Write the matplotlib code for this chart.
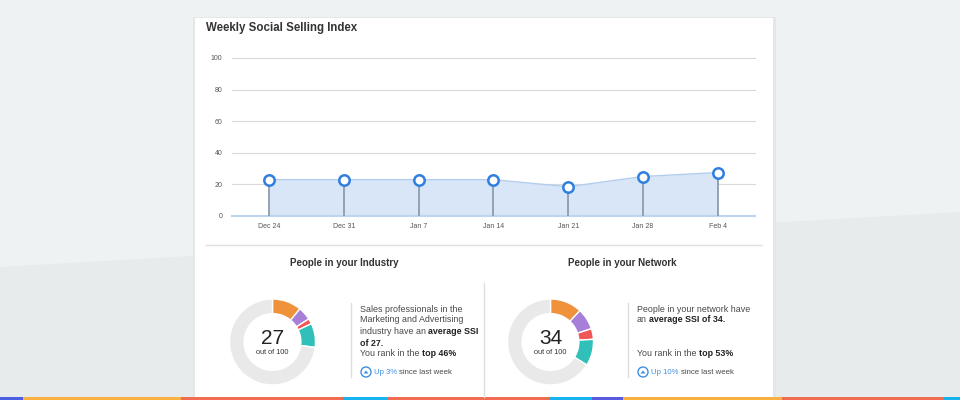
import matplotlib
matplotlib.use("Agg")
import matplotlib.pyplot as plt
from matplotlib.patches import Polygon, Rectangle, Circle

plt.rcParams['font.family'] = ['Liberation Sans', 'DejaVu Sans']

W, H = 960, 400

# weekly index
weeks = ["Dec 24", "Dec 31", "Jan 7", "Jan 14", "Jan 21", "Jan 28", "Feb 4"]
ssi = [23, 23, 23, 23, 18.5, 25, 27.5]
y_ticks = [0, 20, 40, 60, 80, 100]

# donut parts (brand, people, insights, relationships)
industry_parts = [11, 5, 2, 9]
network_parts = [12, 8, 4, 10]
industry_score = 27
network_score = 34
part_colors = ["#f0913b", "#a77fd8", "#f05656", "#31bfb9"]

fig = plt.figure(figsize=(W / 100, H / 100), dpi=100)
fig.patch.set_facecolor("#eff2f2")

# background axes in pixel coordinates
bg = fig.add_axes([0, 0, 1, 1])
bg.set_xlim(0, W)
bg.set_ylim(H, 0)
bg.axis("off")
bg.set_zorder(0)

bg.add_patch(Polygon([(0, 267), (W, 212), (W, H), (0, H)], color="#e8ebec", lw=0))
# card with a soft shadow
bg.add_patch(Rectangle((193, 17), 583, 383, color="#e4e7e8", lw=0))
bg.add_patch(Rectangle((195, 18), 578, 382, color="white", lw=0))

# coloured strip along the bottom
strip = [(0, 23, "#4b5fe3"), (23, 181, "#fbb03f"), (181, 343, "#f26c52"),
         (343, 387, "#17b3ef"), (387, 549, "#f26c52"), (549, 592, "#17b3ef"),
         (592, 623, "#5a5ae0"), (623, 782, "#fbb03f"), (782, 944, "#f26c52"),
         (944, 960, "#17b3ef")]
for a, b, c in strip:
    bg.add_patch(Rectangle((a, 397), b - a, 3, color=c, lw=0))

bg.text(206, 28, "Weekly Social Selling Index", size=8.3, weight="bold",
        color="#333333", va="center")

# separators
bg.plot([206, 762], [245, 245], color="#e0e0e0", lw=1)
bg.plot([484, 484], [283, 397], color="#e0e0e0", lw=1)
bg.plot([351, 351], [303, 377], color="#dddddd", lw=1)
bg.plot([628, 628], [303, 377], color="#dddddd", lw=1)

bg.text(344, 263, "People in your Industry", size=7.0, weight="bold",
        color="#333333", ha="center", va="center")
bg.text(622, 263, "People in your Network", size=7.0, weight="bold",
        color="#333333", ha="center", va="center")

# line chart
ax = fig.add_axes([232 / W, 1 - 216 / H, (755 - 232) / W, (216 - 58) / H])
ax.set_facecolor("none")
ax.set_zorder(1)
x = list(range(len(weeks)))
ax.set_xlim(-0.5, len(weeks) - 0.5)
ax.set_ylim(0, 100)
for t in y_ticks[1:]:
    ax.axhline(t, color="#d9d9d9", lw=0.8, clip_on=False, zorder=1)
ax.fill_between(x, ssi, 0, color="#d8e6f7", lw=0, zorder=2)
ax.plot(x, ssi, color="#b3cdee", lw=1, zorder=3)
ax.axhline(0, color="#bfd5ef", lw=1.5, clip_on=False, zorder=3)
ax.vlines(x, 0, ssi, color="#8d9cac", lw=1.3, zorder=4)
ax.plot(x, ssi, "o", mfc="white", mec="#2f7fe0", mew=1.8, ms=7.5, zorder=5, clip_on=False)
ax.set_xticks(x)
ax.set_xticklabels(weeks)
ax.set_yticks(y_ticks)
ax.tick_params(length=0, labelsize=5, labelcolor="#555555")
ax.tick_params(axis="x", pad=5)
ax.tick_params(axis="y", pad=7)
for s in ax.spines.values():
    s.set_visible(False)


def donut(cx, cy, r, parts, score):
    a = fig.add_axes([(cx - r) / W, 1 - (cy + r) / H, 2 * r / W, 2 * r / H])
    a.set_zorder(1)
    a.pie(parts + [100 - score], colors=part_colors + ["#e9e9e9"],
          startangle=90, counterclock=False, radius=1,
          wedgeprops=dict(width=0.34, edgecolor="white", linewidth=1))
    a.set_xlim(-1, 1)
    a.set_ylim(-1, 1)
    a.text(0, 0.07, str(score), size=15, color="#222222", ha="center", va="center")
    a.text(0, -0.24, "out of 100", size=5.3, color="#333333", ha="center", va="center")


donut(272.5, 342, 43, industry_parts, industry_score)
donut(550.5, 342, 43, network_parts, network_score)


def rich(xp, yp, parts, size=6.4):
    prev = None
    for s, bold, col in parts:
        w = "bold" if bold else "normal"
        if prev is None:
            prev = bg.text(xp, yp, s, size=size, weight=w, color=col, va="center")
        else:
            prev = bg.annotate(s, xy=(1, 0), xycoords=prev, xytext=(1.6, 0),
                               textcoords="offset points", size=size, weight=w,
                               color=col, va="bottom")


def up_icon(xp, yp):
    bg.add_patch(Circle((xp, yp), 5, facecolor="white", edgecolor="#3d8fe0", lw=1))
    bg.add_patch(Polygon([(xp - 2.5, yp + 1.5), (xp + 2.5, yp + 1.5), (xp, yp - 1.5)],
                         color="#3d8fe0", lw=0))


txt = "#484848"
blue = "#3d8fe0"
rich(360, 309, [("Sales professionals in the", False, txt)])
rich(360, 320, [("Marketing and Advertising", False, txt)])
rich(360, 332, [("industry have an", False, txt), ("average SSI", True, "#222222")])
rich(360, 343, [("of " + str(industry_score) + ".", True, "#222222")])
rich(360, 354, [("You rank in the", False, txt), ("top 46%", True, "#222222")])
up_icon(366, 372)
rich(374, 372, [("Up 3%", False, blue), ("since last week", False, txt)], size=5.6)

rich(637, 309, [("People in your network have", False, txt)])
rich(637, 320, [("an", False, txt), ("average SSI of " + str(network_score) + ".", True, "#222222")])
rich(637, 354, [("You rank in the", False, txt), ("top 53%", True, "#222222")])
up_icon(643, 372)
rich(651, 372, [("Up 10%", False, blue), ("since last week", False, txt)], size=5.6)

fig.savefig("out.png", dpi=100, facecolor=fig.get_facecolor())
